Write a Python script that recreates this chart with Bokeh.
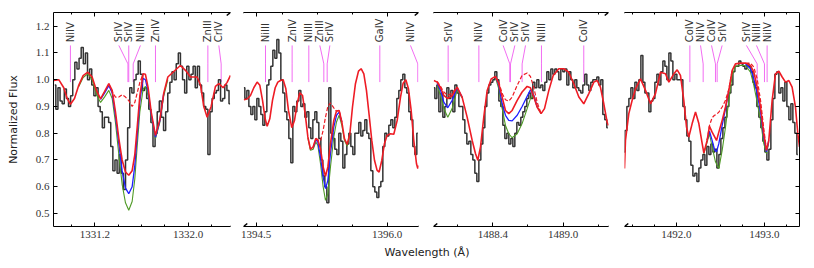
import numpy as np
from bokeh.plotting import figure
from bokeh.layouts import row, column
from bokeh.models import FixedTicker, LinearAxis, Arrow, CustomJSTickFormatter, NumeralTickFormatter
from bokeh.core.properties import value
from bokeh.embed import file_html
from bokeh.resources import INLINE

# ---------------- data ----------------
y_ticks = [0.5, 0.6, 0.7, 0.8, 0.9, 1.0, 1.1, 1.2]

# panel 1 : 1331 A
x_range1 = (1330.846, 1332.363)
major1 = [1331.2, 1332.0]
minor1 = [1331.0, 1331.4, 1331.6, 1331.8, 1332.2]
obs1_start, obs1_step = 1330.857, 0.0181
obs1 = [0.98, 0.89, 0.97, 0.92, 0.91, 0.965, 0.93, 0.90, 0.94, 1.00,
        1.065, 1.04, 1.08, 1.12, 1.06, 1.10, 1.00, 1.04, 0.98, 0.94,
        0.97, 0.90, 0.88, 0.82, 0.86, 0.86, 0.84, 0.75, 0.66, 0.70,
        0.65, 0.72, 0.65, 0.59, 0.70, 0.82, 0.97, 0.95, 1.00, 1.02,
        1.07, 1.02, 0.96, 0.97, 0.93, 0.89, 0.84, 0.75, 0.80, 0.88,
        0.92, 0.86, 0.81, 0.88, 0.95, 0.99, 1.03, 1.00, 1.06, 1.10,
        1.05, 1.00, 0.95, 1.05, 1.00, 1.02, 1.05, 0.97, 1.05, 0.98,
        0.95, 0.90, 0.89, 0.72, 0.88, 0.93, 0.95, 0.96, 1.00, 0.92,
        0.93, 0.98, 0.96, 0.91]
red1 = [(1330.849, 0.997), (1330.891, 1.000), (1330.934, 0.970), (1330.963, 0.930), (1330.991, 0.908),
        (1331.026, 0.930), (1331.063, 0.980), (1331.100, 1.015), (1331.140, 1.028), (1331.177, 1.010),
        (1331.214, 0.960), (1331.249, 0.928), (1331.283, 0.955), (1331.320, 0.985), (1331.349, 0.960),
        (1331.377, 0.880), (1331.406, 0.780), (1331.434, 0.700), (1331.463, 0.655), (1331.491, 0.643),
        (1331.520, 0.660), (1331.543, 0.720), (1331.563, 0.820), (1331.586, 0.940), (1331.614, 1.022),
        (1331.634, 1.020), (1331.657, 0.970), (1331.683, 0.880), (1331.720, 0.792), (1331.757, 0.850),
        (1331.791, 0.950), (1331.826, 1.010), (1331.863, 1.025), (1331.900, 1.040), (1331.934, 1.053),
        (1331.977, 1.035), (1332.020, 1.010), (1332.077, 1.010), (1332.106, 0.980), (1332.134, 0.900),
        (1332.163, 0.860), (1332.197, 0.900), (1332.234, 0.975), (1332.263, 0.985), (1332.300, 0.970),
        (1332.334, 0.990), (1332.363, 1.016)]
dash1 = [[(1331.320, 0.985), (1331.349, 0.955), (1331.377, 0.935), (1331.406, 0.935), (1331.434, 0.944),
          (1331.463, 0.935), (1331.491, 0.922), (1331.520, 0.900), (1331.543, 0.915), (1331.563, 0.950),
          (1331.586, 0.990), (1331.614, 1.022)]]
blue1 = [[(1331.249, 0.926), (1331.283, 0.950), (1331.320, 0.978), (1331.349, 0.950), (1331.377, 0.865),
          (1331.406, 0.760), (1331.434, 0.660), (1331.463, 0.595), (1331.491, 0.574), (1331.520, 0.600),
          (1331.543, 0.680), (1331.563, 0.790), (1331.586, 0.920), (1331.614, 1.005), (1331.634, 1.000),
          (1331.657, 0.955), (1331.683, 0.870), (1331.720, 0.785), (1331.757, 0.845), (1331.791, 0.950)]]
green1 = [[(1331.063, 0.975), (1331.100, 1.008), (1331.140, 1.022), (1331.177, 1.000), (1331.214, 0.945),
           (1331.249, 0.915), (1331.283, 0.935), (1331.320, 0.960), (1331.349, 0.930), (1331.377, 0.840),
           (1331.406, 0.720), (1331.434, 0.610), (1331.463, 0.540), (1331.491, 0.512), (1331.520, 0.545),
           (1331.543, 0.630), (1331.563, 0.750), (1331.586, 0.880), (1331.614, 0.965), (1331.634, 0.975),
           (1331.657, 0.940), (1331.683, 0.860), (1331.720, 0.780), (1331.757, 0.840), (1331.791, 0.940),
           (1331.826, 1.000)]]
ion1 = ["NiIV", "SrIV", "SrIV", "NiIII", "ZnIV", "ZnIII", "CrIV"]
wl1 = [1330.991, 1331.484, 1331.491, 1331.529, 1331.720, 1332.169, 1332.283]
lab1 = [1330.991, 1331.406, 1331.491, 1331.591, 1331.720, 1332.169, 1332.263]

# panel 2 : 1395 A
x_range2 = (1394.355, 1396.359)
major2 = [1394.5, 1396.0]
minor2 = [1394.8, 1395.2, 1395.6]
obs2_start, obs2_step = 1394.359, 0.0229
obs2 = [0.97, 0.93, 0.96, 0.90, 0.87, 0.90, 0.85, 0.93, 0.90, 0.87,
        0.83, 0.88, 0.98, 1.00, 1.05, 1.11, 1.08, 1.15, 1.10, 1.00,
        0.95, 0.88, 0.85, 0.78, 0.69, 0.90, 0.88, 0.92, 0.96, 0.90,
        0.91, 0.86, 0.88, 0.82, 0.78, 0.85, 0.88, 0.84, 0.78, 0.70,
        0.64, 0.60, 0.54, 0.97, 0.80, 0.78, 0.74, 0.72, 0.80, 0.77,
        0.67, 0.72, 0.76, 0.80, 0.75, 0.72, 0.80, 0.80, 0.84, 0.79,
        0.81, 0.85, 0.80, 0.78, 0.66, 0.60, 0.58, 0.56, 0.60, 0.62,
        0.75, 0.80, 0.79, 0.83, 0.85, 0.82, 0.86, 0.93, 0.96, 1.00,
        1.02, 0.97, 0.95, 0.88, 0.85, 0.75, 0.72, 0.80]
red2 = [(1394.359, 0.925), (1394.397, 0.928), (1394.435, 0.941), (1394.473, 0.970), (1394.511, 0.991),
        (1394.542, 0.979), (1394.573, 0.923), (1394.603, 0.854), (1394.626, 0.826), (1394.656, 0.854),
        (1394.687, 0.923), (1394.718, 0.970), (1394.748, 0.991), (1394.779, 0.997), (1394.809, 1.000),
        (1394.840, 0.966), (1394.870, 0.885), (1394.908, 0.821), (1394.939, 0.848), (1394.969, 0.910),
        (1395.000, 0.951), (1395.031, 0.941), (1395.061, 0.873), (1395.092, 0.786), (1395.122, 0.740),
        (1395.153, 0.749), (1395.183, 0.780), (1395.206, 0.776), (1395.237, 0.742), (1395.267, 0.674),
        (1395.294, 0.639), (1395.321, 0.674), (1395.351, 0.761), (1395.389, 0.848), (1395.420, 0.883),
        (1395.450, 0.885), (1395.481, 0.842), (1395.511, 0.780), (1395.542, 0.758), (1395.573, 0.798),
        (1395.603, 0.898), (1395.637, 0.985), (1395.672, 1.032), (1395.702, 1.041), (1395.733, 1.022),
        (1395.763, 0.960), (1395.794, 0.867), (1395.824, 0.773), (1395.855, 0.699), (1395.885, 0.661),
        (1395.908, 0.655), (1395.939, 0.699), (1395.969, 0.761), (1396.000, 0.792), (1396.038, 0.798),
        (1396.076, 0.796), (1396.115, 0.848), (1396.153, 0.935), (1396.183, 0.987), (1396.214, 1.000),
        (1396.244, 0.966), (1396.275, 0.885), (1396.305, 0.773), (1396.336, 0.686), (1396.351, 0.668),
        (1396.359, 0.680)]
dash2 = [[(1395.183, 0.780), (1395.206, 0.773), (1395.237, 0.771), (1395.267, 0.811), (1395.294, 0.860),
          (1395.321, 0.900), (1395.351, 0.913), (1395.389, 0.895), (1395.420, 0.882), (1395.450, 0.885),
          (1395.481, 0.842)]]
blue2 = [[(1395.153, 0.746), (1395.183, 0.776), (1395.206, 0.767), (1395.237, 0.711), (1395.267, 0.637),
          (1395.294, 0.593), (1395.321, 0.624), (1395.351, 0.724), (1395.389, 0.823), (1395.420, 0.867),
          (1395.450, 0.879), (1395.481, 0.842)]]
green2 = [[(1395.092, 0.783), (1395.122, 0.736), (1395.153, 0.740), (1395.183, 0.767), (1395.206, 0.755),
           (1395.237, 0.686), (1395.267, 0.600), (1395.294, 0.549), (1395.321, 0.574), (1395.351, 0.674),
           (1395.389, 0.786), (1395.420, 0.842), (1395.450, 0.867), (1395.481, 0.829), (1395.511, 0.773),
           (1395.542, 0.752), (1395.573, 0.796)]]
ion2 = ["NiIII", "ZnIV", "NiIII", "ZnIII", "SrIV", "GaIV", "NiIV"]
wl2 = [1394.607, 1394.912, 1395.103, 1395.275, 1395.313, 1395.916, 1396.351]
lab2 = [1394.607, 1394.912, 1395.103, 1395.229, 1395.344, 1395.916, 1396.267]

# panel 3 : 1488 A
x_range3 = (1487.894, 1489.387)
major3 = [1488.4, 1489.0]
minor3 = [1488.1, 1488.7, 1489.3]
obs3_start, obs3_step = 1487.897, 0.01706
obs3 = [0.97, 0.93, 0.98, 0.88, 0.95, 0.86, 0.90, 0.97, 0.93, 0.96,
        0.88, 0.98, 0.95, 0.90, 0.90, 0.85, 0.80, 0.76, 0.77, 0.72,
        0.70, 0.65, 0.62, 0.70, 0.76, 0.82, 0.90, 0.95, 0.98, 0.99,
        1.00, 1.03, 1.00, 0.92, 0.90, 0.83, 0.78, 0.80, 0.76, 0.78,
        0.75, 0.80, 0.84, 0.83, 0.86, 0.88, 0.90, 0.93, 0.95, 0.93,
        0.99, 0.97, 1.00, 0.97, 0.98, 0.96, 0.99, 1.03, 1.00, 1.04,
        1.02, 1.04, 1.03, 1.00, 1.04, 1.03, 1.04, 0.98, 1.03, 1.00,
        0.97, 1.00, 0.97, 0.96, 0.95, 0.98, 1.02, 0.98, 0.96, 0.99,
        1.00, 1.00, 1.01, 0.98, 1.00, 0.87, 0.85, 0.82]
red3 = [(1487.897, 0.997), (1487.925, 0.991), (1487.954, 0.970), (1487.982, 0.941), (1488.016, 0.929),
        (1488.053, 0.941), (1488.096, 0.972), (1488.138, 0.935), (1488.181, 0.860), (1488.224, 0.773),
        (1488.252, 0.724), (1488.272, 0.699), (1488.295, 0.749), (1488.323, 0.860), (1488.352, 0.960),
        (1488.386, 1.003), (1488.423, 1.012), (1488.451, 0.985), (1488.480, 0.935), (1488.508, 0.885),
        (1488.536, 0.873), (1488.565, 0.885), (1488.608, 0.923), (1488.650, 0.954), (1488.693, 0.975),
        (1488.721, 0.970), (1488.750, 0.935), (1488.778, 0.898), (1488.812, 0.873), (1488.841, 0.892),
        (1488.878, 0.960), (1488.915, 1.016), (1488.963, 1.041), (1489.006, 1.041), (1489.048, 1.028),
        (1489.091, 0.985), (1489.134, 0.935), (1489.176, 0.910), (1489.219, 0.948), (1489.262, 0.991),
        (1489.290, 0.997), (1489.318, 0.972), (1489.347, 0.910), (1489.375, 0.842), (1489.387, 0.829)]
dash3 = [[(1487.925, 0.994), (1487.954, 0.975), (1487.982, 0.954), (1488.016, 0.941), (1488.053, 0.950),
          (1488.096, 0.972)],
         [(1488.423, 1.012), (1488.451, 0.991), (1488.480, 0.948), (1488.508, 0.925), (1488.536, 0.920),
          (1488.565, 0.935), (1488.608, 0.979), (1488.650, 1.016), (1488.693, 1.025), (1488.721, 1.012),
          (1488.750, 0.970), (1488.778, 0.916), (1488.812, 0.873)]]
blue3 = [[(1487.925, 0.987), (1487.954, 0.960), (1487.982, 0.916), (1488.016, 0.895), (1488.053, 0.923),
          (1488.096, 0.970), (1488.138, 0.935)],
         [(1488.423, 1.012), (1488.451, 0.979), (1488.480, 0.910), (1488.508, 0.867), (1488.536, 0.848),
          (1488.565, 0.846), (1488.608, 0.867), (1488.650, 0.900), (1488.693, 0.938), (1488.721, 0.962),
          (1488.750, 0.941), (1488.778, 0.898)]]
green3 = [[(1487.925, 0.979), (1487.954, 0.941), (1487.982, 0.892), (1488.016, 0.860), (1488.053, 0.892),
           (1488.096, 0.962), (1488.138, 0.933)],
          [(1488.423, 1.007), (1488.451, 0.966), (1488.480, 0.892), (1488.508, 0.829), (1488.536, 0.798),
           (1488.565, 0.783), (1488.608, 0.798), (1488.650, 0.836), (1488.693, 0.892), (1488.721, 0.929),
           (1488.750, 0.941), (1488.778, 0.900), (1488.812, 0.873)]]
ion3 = ["SrIV", "NiIV", "CoIV", "SrIV", "SrIV", "NiIII", "CoIV"]
wl3 = [1488.019, 1488.281, 1488.545, 1488.551, 1488.650, 1488.815, 1489.176]
lab3 = [1488.019, 1488.281, 1488.488, 1488.588, 1488.679, 1488.815, 1489.176]

# panel 4 : 1492 A
x_range4 = (1491.409, 1493.398)
major4 = [1492.0, 1493.0]
minor4 = [1491.5, 1491.75, 1492.25, 1492.5, 1492.75, 1493.25]
obs4_start, obs4_step = 1491.402, 0.02273
obs4 = [0.73, 0.81, 0.90, 0.93, 0.97, 0.93, 0.99, 0.96, 1.00, 1.09,
        0.99, 0.95, 0.95, 0.88, 0.92, 0.93, 0.99, 1.02, 0.98, 1.03,
        1.07, 1.05, 1.00, 1.10, 1.07, 1.00, 1.02, 1.00, 1.00, 1.00,
        0.90, 0.85, 0.79, 0.77, 0.68, 0.64, 0.65, 0.62, 0.67, 0.70,
        0.72, 0.68, 0.75, 0.72, 0.76, 0.73, 0.74, 0.67, 0.72, 0.78,
        0.82, 0.86, 0.90, 0.95, 0.98, 1.03, 1.05, 1.05, 1.07, 1.06,
        1.05, 1.04, 1.06, 1.05, 1.03, 0.99, 0.97, 0.90, 0.86, 0.82,
        0.77, 0.73, 0.70, 0.74, 0.85, 0.93, 1.02, 1.03, 0.95, 0.97,
        0.92, 0.99, 0.90, 0.85, 0.91, 0.84, 0.80, 0.72]
red4 = [(1491.409, 0.668), (1491.420, 0.773), (1491.458, 0.873), (1491.496, 0.923), (1491.534, 0.966),
        (1491.591, 1.003), (1491.648, 0.960), (1491.705, 0.910), (1491.761, 0.948), (1491.818, 1.028),
        (1491.875, 1.022), (1491.913, 0.991), (1491.970, 1.022), (1492.008, 1.037), (1492.045, 1.016),
        (1492.083, 0.923), (1492.114, 0.823), (1492.140, 0.786), (1492.178, 0.836), (1492.216, 0.879),
        (1492.254, 0.836), (1492.292, 0.761), (1492.311, 0.726), (1492.348, 0.773), (1492.375, 0.826),
        (1492.405, 0.804), (1492.455, 0.773), (1492.481, 0.804), (1492.519, 0.848), (1492.557, 0.898),
        (1492.595, 0.960), (1492.633, 1.035), (1492.670, 1.059), (1492.727, 1.062), (1492.784, 1.062),
        (1492.841, 1.053), (1492.879, 1.028), (1492.917, 0.972), (1492.955, 0.898), (1492.992, 0.798),
        (1493.023, 0.736), (1493.049, 0.773), (1493.087, 0.923), (1493.125, 1.022), (1493.163, 1.032),
        (1493.201, 1.010), (1493.239, 0.991), (1493.277, 0.997), (1493.314, 0.972), (1493.352, 0.898),
        (1493.379, 0.798), (1493.398, 0.749)]
dash4 = [[(1492.348, 0.773), (1492.375, 0.829), (1492.405, 0.858), (1492.432, 0.867), (1492.455, 0.870),
          (1492.481, 0.879), (1492.519, 0.898), (1492.557, 0.923), (1492.595, 0.966), (1492.633, 1.035)],
         [(1492.784, 1.062), (1492.841, 1.062), (1492.879, 1.047), (1492.917, 1.003), (1492.955, 0.923),
          (1492.992, 0.817), (1493.023, 0.736)]]
blue4 = [[(1492.348, 0.773), (1492.375, 0.808), (1492.405, 0.773), (1492.432, 0.739), (1492.455, 0.730),
          (1492.481, 0.761), (1492.519, 0.829), (1492.557, 0.892), (1492.595, 0.960)],
         [(1492.784, 1.059), (1492.841, 1.041), (1492.879, 1.003), (1492.917, 0.948), (1492.955, 0.879),
          (1492.992, 0.786), (1493.023, 0.730), (1493.049, 0.773)]]
green4 = [[(1492.311, 0.724), (1492.348, 0.767), (1492.375, 0.798), (1492.405, 0.749), (1492.443, 0.693),
           (1492.481, 0.668), (1492.519, 0.736), (1492.557, 0.823), (1492.595, 0.923), (1492.633, 1.016),
           (1492.670, 1.050), (1492.727, 1.053), (1492.784, 1.053), (1492.841, 1.028), (1492.879, 0.979),
           (1492.917, 0.916), (1492.955, 0.848), (1492.992, 0.761), (1493.023, 0.724), (1493.049, 0.767)]]
ion4 = ["CoIV", "NiIV", "CoIV", "SrIV", "SrIV", "NiIII", "NiIV"]
wl4 = [1492.152, 1492.303, 1492.443, 1492.462, 1492.917, 1493.000, 1493.030]
lab4 = [1492.152, 1492.273, 1492.398, 1492.519, 1492.795, 1492.909, 1493.030]

# ---------------- style ----------------
FW = [177, 175, 175, 175]
BL = [53, 7, 8, 8]
BR = [6, 7, 8, 5]
FH = 214
TOP_B = 12
Y0, Y1 = 0.4514, 1.2511
Y_TXT, Y_TOP, Y_FORK, Y_BOT = 1.14, 1.128, 1.059, 0.991
MAG = "#f26df2"
RED = "#ee1c25"
BLUE = "#1f1fff"
GREEN = "#4f9a26"
DATA = "#333333"


def style_axis(ax):
    ax.axis_line_color = "black"
    ax.axis_line_width = 1
    ax.major_tick_line_color = "black"
    ax.minor_tick_line_color = "black"
    ax.major_tick_in = 4
    ax.major_tick_out = 0
    ax.minor_tick_in = 2
    ax.minor_tick_out = 0
    ax.major_label_text_font = "Liberation Serif"
    ax.major_label_text_font_size = "11px"
    ax.major_label_text_color = "#333333"
    ax.major_label_standoff = 4


def blank(ax):
    ax.formatter = CustomJSTickFormatter(code="return ''")
    ax.major_label_standoff = 0
    ax.major_label_text_font_size = "1px"


def segs(lst):
    return [[a for a, b in s] for s in lst], [[b for a, b in s] for s in lst]


panels = [
    (x_range1, major1, minor1, obs1_start, obs1_step, obs1, red1, dash1, blue1, green1, ion1, wl1, lab1),
    (x_range2, major2, minor2, obs2_start, obs2_step, obs2, red2, dash2, blue2, green2, ion2, wl2, lab2),
    (x_range3, major3, minor3, obs3_start, obs3_step, obs3, red3, dash3, blue3, green3, ion3, wl3, lab3),
    (x_range4, major4, minor4, obs4_start, obs4_step, obs4, red4, dash4, blue4, green4, ion4, wl4, lab4),
]

figs = []
for i, (xr, mj, mn, o0, od, obs, red, dash, blue, green, ions, wls, labs) in enumerate(panels):
    loc = {0: "left", 3: "right"}.get(i)
    p = figure(frame_width=FW[i], frame_height=FH, x_range=xr, y_range=(Y0, Y1),
               toolbar_location=None, output_backend="svg", y_axis_location=loc,
               min_border_left=BL[i], min_border_right=BR[i], min_border_top=TOP_B, min_border_bottom=18,
               outline_line_color=None, background_fill_color="white", border_fill_color="white")
    p.xgrid.visible = False
    p.ygrid.visible = False

    xa = p.xaxis[0]
    xa.ticker = FixedTicker(ticks=mj, minor_ticks=mn)
    xa.formatter = NumeralTickFormatter(format="0.0")
    style_axis(xa)
    top = LinearAxis(ticker=FixedTicker(ticks=mj, minor_ticks=mn))
    style_axis(top)
    blank(top)
    p.add_layout(top, "above")

    if loc is not None:
        ya = p.yaxis[0]
        ya.ticker = FixedTicker(ticks=y_ticks)
        style_axis(ya)
        if i == 0:
            ya.formatter = NumeralTickFormatter(format="0.0")
            ya.axis_label = "Normalized Flux"
            ya.axis_label_text_font = "DejaVu Sans"
            ya.axis_label_text_font_size = "11px"
            ya.axis_label_text_font_style = "normal"
            ya.axis_label_text_color = "#222222"
            ya.axis_label_standoff = 13
        else:
            blank(ya)

    # line identifications
    xs = [[lb, w, w] for w, lb in zip(wls, labs)]
    ys = [[Y_TOP, Y_FORK, Y_BOT] for _ in wls]
    p.multi_line(xs, ys, line_color=MAG, line_width=1)
    p.text(x=labs, y=[Y_TXT] * len(labs), text=ions, angle=np.pi / 2,
           text_align="left", text_baseline="middle",
           text_font=value("DejaVu Sans"), text_font_size="10px", text_color="#333333")

    # observed spectrum
    ox = o0 + od * np.arange(len(obs))
    p.step(ox, obs, mode="center", line_color=DATA, line_width=1.5)

    # models
    gx, gy = segs(green)
    p.multi_line(gx, gy, line_color=GREEN, line_width=1.1)
    bx, by = segs(blue)
    p.multi_line(bx, by, line_color=BLUE, line_width=1.3)
    dx_, dy_ = segs(dash)
    p.multi_line(dx_, dy_, line_color=RED, line_width=1.2, line_dash="4 2")
    p.line([a for a, b in red], [b for a, b in red], line_color=RED, line_width=1.6)

    # axis break marks
    ppx = FW[i] / (xr[1] - xr[0])
    ppy = FH / (Y1 - Y0)
    hx, hy = 3.8 / ppx, 3.0 / ppy
    edges = []
    if i > 0:
        edges.append(xr[0])
    if i < 3:
        edges.append(xr[1])
    for xe in edges:
        for ye in (Y0, Y1):
            p.add_layout(Arrow(end=None, start=None, x_start=xe - hx, y_start=ye - hy,
                               x_end=xe + hx, y_end=ye + hy,
                               line_color="black", line_width=1.5))
    figs.append(p)

total_w = sum(FW) + sum(BL) + sum(BR)
pl = figure(width=total_w, height=20, x_range=(0, total_w),
            y_range=(0, 20), toolbar_location=None, output_backend="svg",
            x_axis_location=None, y_axis_location=None, min_border=0, outline_line_color=None)
pl.xgrid.visible = False
pl.ygrid.visible = False
pl.text(x=[426.5], y=[12], text=["Wavelength (Å)"], text_align="center", text_baseline="middle",
        text_font=value("DejaVu Sans"), text_font_size="11px", text_color="#222222")

layout = column(row(*figs), pl)
open("out.html", "w").write(file_html(layout, INLINE))
